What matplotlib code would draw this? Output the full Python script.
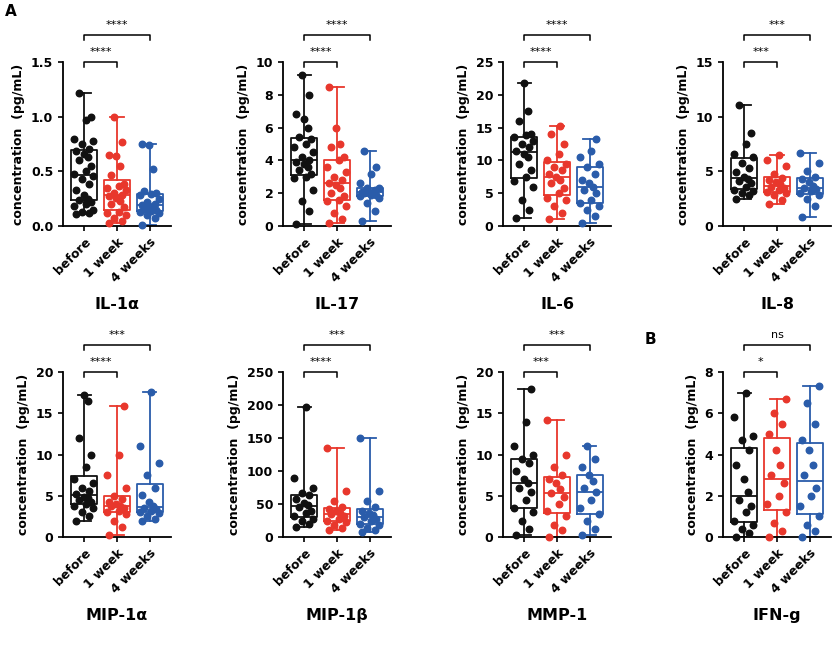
import numpy as np
import matplotlib
matplotlib.use('Agg')
import matplotlib.pyplot as plt

groups = ['before', '1 week', '4 weeks']
colors = ['#111111', '#e8372c', '#2a5caa']

il1a = [[0.11,0.12,0.13,0.15,0.18,0.20,0.22,0.24,0.25,0.28,0.33,0.38,0.43,0.46,0.48,0.50,0.55,0.60,0.63,0.66,0.69,0.70,0.75,0.78,0.80,0.97,1.0,1.22],
        [0.03,0.05,0.07,0.10,0.12,0.13,0.17,0.20,0.23,0.26,0.27,0.28,0.30,0.33,0.35,0.37,0.38,0.47,0.55,0.64,0.65,0.77,1.0],
        [0.01,0.07,0.10,0.12,0.13,0.14,0.15,0.16,0.17,0.18,0.19,0.20,0.22,0.25,0.28,0.29,0.30,0.32,0.52,0.74,0.75]]
il17 = [[0.1,0.9,1.5,2.2,2.9,3.0,3.2,3.4,3.6,3.8,3.9,4.0,4.2,4.5,4.8,5.0,5.3,5.4,6.0,6.5,6.8,8.0,9.2],
        [0.2,0.4,0.8,1.2,1.5,1.6,1.8,2.0,2.3,2.5,2.6,2.8,3.0,3.3,3.6,4.0,4.2,4.8,5.0,6.0,8.5],
        [0.3,0.9,1.4,1.7,1.8,1.9,1.9,2.0,2.0,2.1,2.1,2.2,2.3,2.3,2.6,3.2,3.6,4.6]]
il6 = [[1.2,2.5,4.0,6.0,6.8,7.5,8.5,9.5,10.5,11.0,11.5,12.0,12.5,13.0,13.5,13.8,14.0,16.0,17.5,21.8],
       [1.0,2.0,3.0,4.0,4.3,5.0,5.8,6.5,7.0,7.5,8.0,8.5,9.0,9.5,10.0,11.0,12.5,14.0,15.2],
       [0.5,1.5,2.5,3.0,3.5,4.0,5.0,5.5,6.0,6.5,7.0,8.0,9.0,9.5,10.5,11.5,13.2]]
il8 = [[2.5,2.8,3.0,3.2,3.3,3.6,3.9,4.1,4.3,4.5,4.9,5.3,5.8,6.3,6.6,7.5,8.5,11.1],
       [2.0,2.4,2.8,3.0,3.1,3.3,3.5,3.6,3.8,4.0,4.2,4.4,4.8,5.5,6.0,6.5],
       [0.8,1.8,2.5,2.8,3.0,3.2,3.4,3.5,3.7,4.0,4.3,4.5,5.0,5.8,6.7]]
mip1a = [[1.9,2.5,3.0,3.5,3.8,4.0,4.3,4.5,4.7,4.9,5.2,5.6,6.0,6.5,7.0,8.5,10.0,12.0,16.5,17.2],
         [0.3,1.2,2.0,2.8,3.0,3.2,3.5,3.7,3.8,4.0,4.3,4.6,5.0,6.0,7.5,10.0,15.9],
         [1.9,2.2,2.6,2.9,3.0,3.2,3.4,3.5,3.8,4.2,5.1,6.0,7.5,9.0,11.0,17.6]]
mip1b = [[15,20,25,28,32,36,40,45,48,52,58,63,67,75,90,197],
         [10,14,18,22,25,28,32,35,37,40,42,45,55,70,135],
         [7,10,14,18,20,24,28,30,33,37,40,45,55,70,150]]
mmp1 = [[0.3,1.0,2.0,3.0,3.5,4.5,5.5,6.0,6.5,7.0,8.0,9.0,9.5,10.0,11.0,14.0,18.0],
        [0.0,0.8,1.5,2.5,3.2,4.0,4.8,5.3,5.8,6.5,7.0,7.5,8.5,10.0,14.2],
        [0.2,1.0,2.0,2.8,3.5,4.5,5.5,6.0,6.8,7.5,8.5,9.5,11.0]]
ifng = [[0.0,0.2,0.4,0.6,0.8,1.2,1.5,1.8,2.2,2.8,3.5,4.2,4.7,4.9,5.8,7.0],
        [0.0,0.3,0.7,1.2,1.6,2.0,2.6,3.0,3.5,4.2,5.0,5.5,6.0,6.7],
        [0.0,0.3,0.6,1.0,1.5,2.0,2.4,3.0,3.5,4.2,4.7,5.5,6.5,7.3]]

panels = [('IL-1α', il1a, [0, 0.5, 1.0, 1.5], ['0.0', '0.5', '1.0', '1.5'], ('****', '****')),
          ('IL-17', il17, [0, 2, 4, 6, 8, 10], None, ('****', '****')),
          ('IL-6', il6, [0, 5, 10, 15, 20, 25], None, ('****', '****')),
          ('IL-8', il8, [0, 5, 10, 15], None, ('***', '***')),
          ('MIP-1α', mip1a, [0, 5, 10, 15, 20], None, ('****', '***')),
          ('MIP-1β', mip1b, [0, 50, 100, 150, 200, 250], None, ('****', '***')),
          ('MMP-1', mmp1, [0, 5, 10, 15, 20], None, ('***', '***')),
          ('IFN-g', ifng, [0, 2, 4, 6, 8], None, ('*', 'ns'))]

W, H = 832, 650
lefts = [63, 283, 503, 723]
jit = [-0.25, 0.15, -0.08, 0.27, -0.3, 0.05, 0.2, -0.17, 0.1, -0.02]

fig = plt.figure(figsize=(W / 100, H / 100), dpi=100)
for k, (name, data, ticks, tlabels, stars) in enumerate(panels):
    row, col = divmod(k, 4)
    top = 62 if row == 0 else 372
    bot = 226 if row == 0 else 537
    ax = fig.add_axes([lefts[col] / W, 1 - bot / H, 108 / W, (bot - top) / H])
    for i, vals in enumerate(data):
        c = colors[i]
        ax.boxplot([vals], positions=[i], widths=0.8, whis=(0, 100), showfliers=False,
                   boxprops=dict(color=c, lw=1.3), medianprops=dict(color=c, lw=1.3),
                   whiskerprops=dict(color=c, lw=1.3), capprops=dict(color=c, lw=1.3))
        xs = [i + jit[j % len(jit)] for j in range(len(vals))]
        ax.scatter(xs, vals, s=22, color=c, zorder=3, clip_on=False)
    ax.set_xlim(-0.65, 2.65)
    ax.set_ylim(ticks[0], ticks[-1])
    ax.set_yticks(ticks)
    if tlabels:
        ax.set_yticklabels(tlabels)
    ax.set_xticks(range(3))
    ax.set_xticklabels(groups, rotation=45, ha='right', rotation_mode='anchor', fontweight='bold', fontsize=9)
    for lab in ax.get_yticklabels():
        lab.set_fontweight('bold')
    ax.tick_params(labelsize=9, width=1.2)
    for s in ['top', 'right']:
        ax.spines[s].set_visible(False)
    for s in ['left', 'bottom']:
        ax.spines[s].set_linewidth(1.3)
    ax.set_ylabel('concentration  (pg/mL)', fontweight='bold', fontsize=9)
    tr = ax.get_xaxis_transform()
    for (x2, yb, st) in [(1, 1.0, stars[0]), (2, 1.165, stars[1])]:
        ax.plot([0, 0, x2, x2], [yb - 0.03, yb, yb, yb - 0.03], color='black', lw=1.1,
                transform=tr, clip_on=False)
        ax.text(x2 / 2, yb + 0.03, st, transform=tr, ha='center', va='bottom', fontsize=8)
    ax.text(1, -0.43, name, transform=tr, ha='center', va='top', fontweight='bold', fontsize=11.5)

fig.text(5 / W, 1 - 12 / H, 'A', fontweight='bold', fontsize=11, va='center')
fig.text(645 / W, 1 - 340 / H, 'B', fontweight='bold', fontsize=11, va='center')
fig.savefig('out.png', dpi=100)
